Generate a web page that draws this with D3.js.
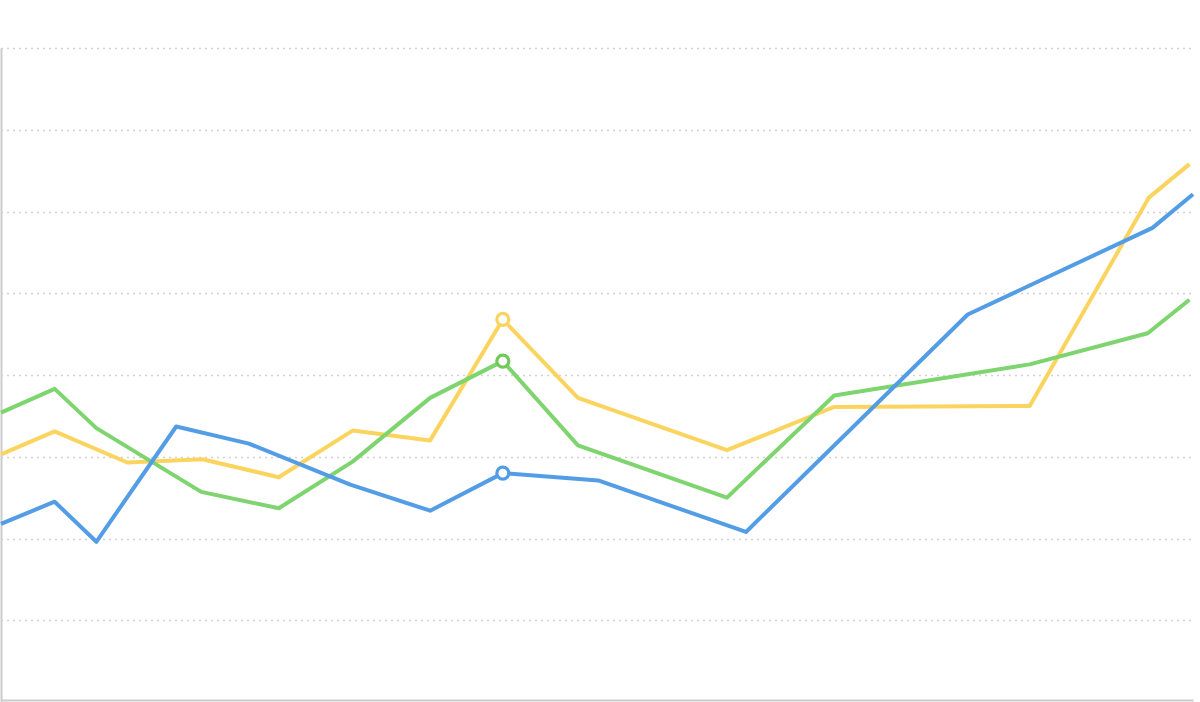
<!DOCTYPE html>
<html>
<head>
<meta charset="utf-8">
<script src="https://cdn.jsdelivr.net/npm/d3@7/dist/d3.min.js"></script>
<style>
html,body{margin:0;padding:0;background:#fff;}
svg{display:block;}
</style>
</head>
<body>
<svg id="chart" width="1200" height="702"></svg>
<script>
// Data (x in time units 0..100, y in value units 0..8)
const yTicks = [1, 2, 3, 4, 5, 6, 7, 8];

const blueX = [0, 4.5, 8.0, 14.7, 20.8, 29.3, 36.0, 42.1, 50.1, 62.5, 81.1, 96.6, 100];
const blueY = [2.18, 2.45, 1.96, 3.37, 3.16, 2.66, 2.34, 2.80, 2.71, 2.08, 4.74, 5.80, 6.21];

const yellowX = [0, 4.5, 10.6, 16.9, 23.3, 29.5, 36.0, 42.1, 48.4, 60.9, 69.9, 86.3, 96.3, 99.7];
const yellowY = [3.03, 3.31, 2.93, 2.97, 2.75, 3.32, 3.20, 4.68, 3.72, 3.08, 3.61, 3.62, 6.17, 6.58];

const greenX = [0, 4.5, 8.0, 16.8, 23.3, 29.5, 36.0, 42.1, 48.4, 60.9, 69.9, 86.3, 96.2, 99.7];
const greenY = [3.54, 3.83, 3.35, 2.57, 2.37, 2.94, 3.72, 4.17, 3.14, 2.50, 3.75, 4.13, 4.51, 4.92];

const highlightX = 42.1;

const series = [
  {name: "yellow", xs: yellowX, ys: yellowY, color: "#fbd45f", marker: "#fbd45f"},
  {name: "green", xs: greenX, ys: greenY, color: "#7ed46f", marker: "#72c859"},
  {name: "blue", xs: blueX, ys: blueY, color: "#539ce6", marker: "#539ce6"}
];

const svg = d3.select("#chart");
const x = d3.scaleLinear().domain([0, 100]).range([1, 1193]);
const y = d3.scaleLinear().domain([0, 8]).range([702, 48]);

// gridlines
svg.append("g")
  .selectAll("line")
  .data(yTicks)
  .join("line")
  .attr("x1", x(0)).attr("x2", x(100))
  .attr("y1", d => Math.round(y(d)) + 0.5)
  .attr("y2", d => Math.round(y(d)) + 0.5)
  .attr("stroke", "#d2d2d2")
  .attr("stroke-width", 1.5)
  .attr("stroke-dasharray", "2,4");

// axes lines
const xAxis = d3.axisBottom(x).tickValues([]).tickSizeOuter(0);
svg.append("g")
  .attr("transform", `translate(0,${y(0) - 2})`)
  .call(xAxis)
  .call(g => g.select(".domain").attr("stroke", "#cccccc").attr("stroke-width", 2));

const yAxis = d3.axisLeft(y).tickValues([]).tickSizeOuter(0);
svg.append("g")
  .attr("transform", `translate(1,0)`)
  .call(yAxis)
  .call(g => g.select(".domain").attr("stroke", "#cccccc").attr("stroke-width", 2));

// lines
const line = d3.line().x(d => x(d[0])).y(d => y(d[1]));
series.forEach(s => {
  const pts = s.xs.map((v, i) => [v, s.ys[i]]);
  svg.append("path")
    .datum(pts)
    .attr("fill", "none")
    .attr("stroke", s.color)
    .attr("stroke-width", 4)
    .attr("stroke-linejoin", "round")
    .attr("d", line);
});

// highlighted points
series.forEach(s => {
  const i = s.xs.indexOf(highlightX);
  if (i < 0) return;
  svg.append("circle")
    .attr("cx", x(s.xs[i]))
    .attr("cy", y(s.ys[i]))
    .attr("r", 6)
    .attr("fill", "#fff")
    .attr("stroke", s.marker)
    .attr("stroke-width", 3.2);
});
</script>
</body>
</html>
